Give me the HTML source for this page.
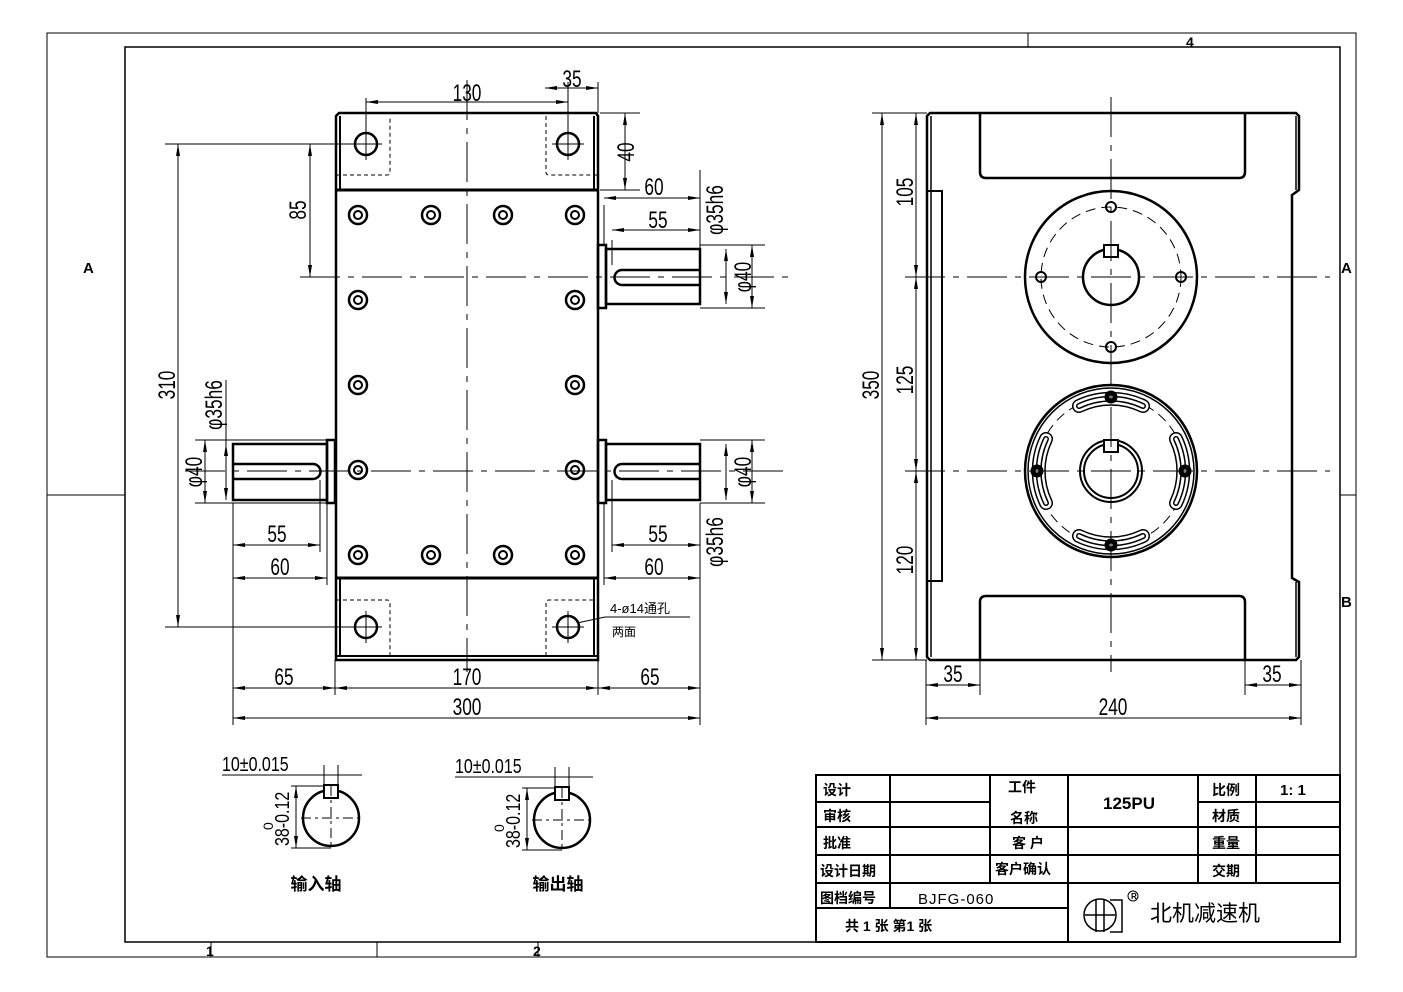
<!DOCTYPE html>
<html><head><meta charset="utf-8"><style>
html,body{margin:0;padding:0;background:#fff}
svg{display:block}
text{font-family:"Liberation Sans","Noto Sans CJK SC",sans-serif;fill:#000}
.d text{font-size:24px;font-weight:normal}
.c{font-family:"Liberation Sans","Noto Sans CJK SC",sans-serif;font-weight:bold;font-size:14px}
</style></head><body>
<svg width="1403" height="992" viewBox="0 0 1403 992" xmlns="http://www.w3.org/2000/svg">
<defs>
<marker id="a" markerWidth="12" markerHeight="6" refX="12" refY="3" orient="auto-start-reverse" markerUnits="userSpaceOnUse"><path d="M0,1 L12,3 L0,5z" fill="#000"/></marker>
</defs>
<g fill="none" stroke="#000">
<rect x="47" y="33" width="1309" height="924" stroke-width="1"/>
<rect x="125" y="47" width="1215" height="895" stroke-width="1.5"/>
<path d="M1028 33V47M377 942V957M47 495H125M1340 495H1356M211 942V957M538 942V957" stroke-width="1"/>
</g>
<text x="83" y="273" font-size="15" font-weight="bold">A</text>
<text x="1341" y="273" font-size="15" font-weight="bold">A</text>
<text x="1341" y="607" font-size="15" font-weight="bold">B</text>
<text x="1186" y="47" font-size="14" font-weight="bold">4</text>
<text x="206" y="956" font-size="14" font-weight="bold">1</text>
<text x="533" y="956" font-size="14" font-weight="bold">2</text>

<!-- LEFT VIEW -->
<g fill="none" stroke="#000">
<path d="M336 116L339 113H596L598 116V660H336Z" stroke-width="2.5"/>
<path d="M340 116V190M594 116V190" stroke-width="2"/>
<path d="M336 190H598M336 578H598" stroke-width="3"/>
<path d="M340 578V656M594 578V656M336 656H598" stroke-width="2"/>
<g stroke-dasharray="4,3" stroke-width="1">
<path d="M336 175H387Q390 175 390 172V116"/>
<path d="M546 116V172Q546 175 549 175H598"/>
<path d="M336 600H387Q390 600 390 603V656"/>
<path d="M546 656V603Q546 600 549 600H594"/>
</g>
<g stroke-width="2.5"><circle cx="366" cy="144" r="11"/><circle cx="568" cy="144" r="11"/><circle cx="366" cy="627" r="11"/><circle cx="568" cy="627" r="11"/></g>
<g stroke-width="1"><path d="M350 144H382M366 128V160M552 144H584M568 128V160M350 627H382M366 611V643M552 627H584M568 611V643"/></g>
<g stroke-width="2.5">
<circle cx="358" cy="215" r="9"/><circle cx="431" cy="215" r="9"/><circle cx="503" cy="215" r="9"/><circle cx="575" cy="215" r="9"/>
<circle cx="358" cy="555" r="9"/><circle cx="431" cy="555" r="9"/><circle cx="503" cy="555" r="9"/><circle cx="575" cy="555" r="9"/>
<circle cx="358" cy="300" r="9"/><circle cx="575" cy="300" r="9"/><circle cx="358" cy="385" r="9"/><circle cx="575" cy="385" r="9"/><circle cx="358" cy="470" r="9"/><circle cx="575" cy="470" r="9"/>
</g>
<g stroke-width="2">
<circle cx="358" cy="215" r="4"/><circle cx="431" cy="215" r="4"/><circle cx="503" cy="215" r="4"/><circle cx="575" cy="215" r="4"/>
<circle cx="358" cy="555" r="4"/><circle cx="431" cy="555" r="4"/><circle cx="503" cy="555" r="4"/><circle cx="575" cy="555" r="4"/>
<circle cx="358" cy="300" r="4"/><circle cx="575" cy="300" r="4"/><circle cx="358" cy="385" r="4"/><circle cx="575" cy="385" r="4"/><circle cx="358" cy="470" r="4"/><circle cx="575" cy="470" r="4"/>
</g>
<g stroke-width="2.5">
<rect x="598" y="245" width="8" height="63"/><rect x="606" y="249" width="94" height="55"/>
<path d="M700 270H622A7.5 7.5 0 0 0 622 285H700"/>
<rect x="598" y="440" width="8" height="63"/><rect x="606" y="444" width="94" height="56"/>
<path d="M700 464H622A7.5 7.5 0 0 0 622 479H700"/>
<rect x="327" y="440" width="8" height="63"/><rect x="233" y="444" width="94" height="56"/>
<path d="M233 464H313A7.5 7.5 0 0 1 313 479H233"/>
</g>
<g stroke-width="1" stroke-dasharray="40,8,6,8">
<path d="M467 80V672"/><path d="M300 277H790"/><path d="M185 471H790"/>
</g>
<g stroke-width="1">
<path d="M366 133V98M568 133V82M598 113V82"/>
<path d="M366 102H568" marker-start="url(#a)" marker-end="url(#a)"/>
<path d="M545 88H598" marker-end="url(#a)"/><path d="M545 88H568" marker-start="url(#a)"/>
<path d="M600 113H640M600 190H640"/><path d="M625 113V190" marker-start="url(#a)" marker-end="url(#a)"/>
<path d="M165 144H350M165 627H350M300 277H320"/>
<path d="M178 144V627" marker-start="url(#a)" marker-end="url(#a)"/>
<path d="M310 144V277" marker-start="url(#a)" marker-end="url(#a)"/>
<path d="M195 440H327M195 503H327M226 380V444"/>
<path d="M205 440V503" marker-start="url(#a)" marker-end="url(#a)"/>
<path d="M226 444V500" marker-start="url(#a)" marker-end="url(#a)"/>
<path d="M233 503V725M320 480V552M327 503V585M335 660V695M598 660V695M700 503V725M612 480V552M604 503V585M700 300V240M612 240V265M604 245V205"/>
<path d="M233 545H320" marker-start="url(#a)" marker-end="url(#a)"/>
<path d="M233 578H327" marker-start="url(#a)" marker-end="url(#a)"/>
<path d="M612 545H700" marker-start="url(#a)" marker-end="url(#a)"/>
<path d="M604 578H700" marker-start="url(#a)" marker-end="url(#a)"/>
<path d="M612 230H700" marker-start="url(#a)" marker-end="url(#a)"/>
<path d="M604 198H700" marker-start="url(#a)" marker-end="url(#a)"/>
<path d="M233 688H335" marker-start="url(#a)" marker-end="url(#a)"/>
<path d="M335 688H598" marker-start="url(#a)" marker-end="url(#a)"/>
<path d="M598 688H700" marker-start="url(#a)" marker-end="url(#a)"/>
<path d="M233 718H700" marker-start="url(#a)" marker-end="url(#a)"/>
<path d="M700 245H765M700 308H765M700 440H765M700 503H765M700 170V245M700 505V600"/>
<path d="M752 245V308" marker-start="url(#a)" marker-end="url(#a)"/>
<path d="M726 249V304" marker-start="url(#a)" marker-end="url(#a)"/>
<path d="M752 440V503" marker-start="url(#a)" marker-end="url(#a)"/>
<path d="M726 444V500" marker-start="url(#a)" marker-end="url(#a)"/>
<path d="M577 623L605 617H690"/>
</g>
</g>
<g class="d" text-anchor="middle">
<text transform="translate(467,101) scale(0.72,1)">130</text>
<text transform="translate(572,87) scale(0.72,1)">35</text>
<text transform="translate(634,152) rotate(-90) scale(0.72,1)">40</text>
<text transform="translate(306,210) rotate(-90) scale(0.72,1)">85</text>
<text transform="translate(175,385) rotate(-90) scale(0.72,1)">310</text>
<text transform="translate(222,405) rotate(-90) scale(0.72,1)">φ35h6</text>
<text transform="translate(202,472) rotate(-90) scale(0.72,1)">φ40</text>
<text transform="translate(277,542) scale(0.72,1)">55</text>
<text transform="translate(280,575) scale(0.72,1)">60</text>
<text transform="translate(284,685) scale(0.72,1)">65</text>
<text transform="translate(467,685) scale(0.72,1)">170</text>
<text transform="translate(650,685) scale(0.72,1)">65</text>
<text transform="translate(467,715) scale(0.72,1)">300</text>
<text transform="translate(654,195) scale(0.72,1)">60</text>
<text transform="translate(658,228) scale(0.72,1)">55</text>
<text transform="translate(723,210) rotate(-90) scale(0.72,1)">φ35h6</text>
<text transform="translate(751,277) rotate(-90) scale(0.72,1)">φ40</text>
<text transform="translate(751,472) rotate(-90) scale(0.72,1)">φ40</text>
<text transform="translate(723,542) rotate(-90) scale(0.72,1)">φ35h6</text>
<text transform="translate(658,542) scale(0.72,1)">55</text>
<text transform="translate(654,575) scale(0.72,1)">60</text>
</g>
<text x="610" y="613" font-size="13">4-ø14通孔</text>
<text x="612" y="636" font-size="12">两面</text>

<!-- RIGHT VIEW -->
<g fill="none" stroke="#000">
<path d="M930 113H1296L1299 116V190L1292 195V578L1299 582V657L1296 660H930L927 657V116Z" stroke-width="2.5"/>
<path d="M931 116V657" stroke-width="1.5"/>
<path d="M980 113V172Q980 178 986 178H1239Q1245 178 1245 172V113" stroke-width="2.5"/>
<path d="M980 660V602Q980 596 986 596H1239Q1245 596 1245 602V660" stroke-width="2.5"/>
<path d="M1296 116V190M1296 582V657" stroke-width="1.5"/>
<rect x="927" y="191" width="15" height="390" stroke-width="2"/>
<circle cx="1111" cy="277" r="86" stroke-width="2.5"/>
<circle cx="1111" cy="277" r="70" stroke-width="1" stroke-dasharray="10,6"/>
<circle cx="1111" cy="277" r="28" stroke-width="2.5"/>
<rect x="1104" y="245" width="14" height="12" fill="#fff" stroke-width="2"/>
<g stroke-width="2"><circle cx="1111" cy="207" r="5"/><circle cx="1111" cy="347" r="5"/><circle cx="1041" cy="277" r="5"/><circle cx="1181" cy="277" r="5"/></g>
<circle cx="1111" cy="471" r="86" stroke-width="2.5"/>
<circle cx="1111" cy="471" r="83" stroke-width="1.5"/>
<circle cx="1111" cy="471" r="74" stroke-width="1" stroke-dasharray="10,6"/>
<circle cx="1111" cy="471" r="31" stroke-width="2"/>
<circle cx="1111" cy="471" r="27" stroke-width="2"/>
<rect x="1104" y="440" width="14" height="12" fill="#fff" stroke-width="2"/>
<g stroke-linecap="round">
<g stroke-width="14" stroke="#000"><path d="M1079 406A74 74 0 0 1 1143 406"/><path d="M1079 536A74 74 0 0 0 1143 536"/><path d="M1046 439A74 74 0 0 0 1046 503"/><path d="M1176 439A74 74 0 0 1 1176 503"/></g>
<g stroke-width="11" stroke="#fff"><path d="M1079 406A74 74 0 0 1 1143 406"/><path d="M1079 536A74 74 0 0 0 1143 536"/><path d="M1046 439A74 74 0 0 0 1046 503"/><path d="M1176 439A74 74 0 0 1 1176 503"/></g>
<g stroke-width="6" stroke="#000"><path d="M1079 406A74 74 0 0 1 1143 406"/><path d="M1079 536A74 74 0 0 0 1143 536"/><path d="M1046 439A74 74 0 0 0 1046 503"/><path d="M1176 439A74 74 0 0 1 1176 503"/></g>
<g stroke-width="3" stroke="#fff"><path d="M1079 406A74 74 0 0 1 1143 406"/><path d="M1079 536A74 74 0 0 0 1143 536"/><path d="M1046 439A74 74 0 0 0 1046 503"/><path d="M1176 439A74 74 0 0 1 1176 503"/></g>
</g>
<g fill="#000"><circle cx="1111" cy="397" r="6"/><circle cx="1111" cy="545" r="6"/><circle cx="1037" cy="471" r="6"/><circle cx="1185" cy="471" r="6"/></g>
<g fill="#fff" stroke="none"><circle cx="1111" cy="397" r="1.5"/><circle cx="1111" cy="545" r="1.5"/><circle cx="1037" cy="471" r="1.5"/><circle cx="1185" cy="471" r="1.5"/></g>
<g stroke-width="1" stroke-dasharray="40,8,6,8">
<path d="M1111 97V672"/><path d="M905 277H1330"/><path d="M905 471H1330"/>
</g>
<g stroke-width="1">
<path d="M872 113H927M872 660H927"/>
<path d="M882 113V660" marker-start="url(#a)" marker-end="url(#a)"/>
<path d="M916 113V277" marker-start="url(#a)" marker-end="url(#a)"/>
<path d="M916 277V471" marker-start="url(#a)" marker-end="url(#a)"/>
<path d="M916 471V660" marker-start="url(#a)" marker-end="url(#a)"/>
<path d="M926 660V725M980 660V695M1245 660V695M1301 660V725"/>
<path d="M926 685H980" marker-start="url(#a)" marker-end="url(#a)"/>
<path d="M1245 685H1301" marker-start="url(#a)" marker-end="url(#a)"/>
<path d="M926 718H1301" marker-start="url(#a)" marker-end="url(#a)"/>
</g>
</g>
<g class="d" text-anchor="middle">
<text transform="translate(879,385) rotate(-90) scale(0.72,1)">350</text>
<text transform="translate(913,192) rotate(-90) scale(0.72,1)">105</text>
<text transform="translate(913,380) rotate(-90) scale(0.72,1)">125</text>
<text transform="translate(913,560) rotate(-90) scale(0.72,1)">120</text>
<text transform="translate(953,682) scale(0.72,1)">35</text>
<text transform="translate(1272,682) scale(0.72,1)">35</text>
<text transform="translate(1113,715) scale(0.72,1)">240</text>
</g>

<!-- KEY SECTIONS -->
<g fill="none" stroke="#000">
<circle cx="331" cy="818" r="28" stroke-width="2.5"/>
<rect x="324" y="785" width="14" height="13" fill="#fff" stroke-width="2"/>
<path d="M301 818H362M331 786V848" stroke-width="1" stroke-dasharray="10,4,3,4"/>
<path d="M222 775H362M324 765V785M338 765V785M291 786H324M291 848H331" stroke-width="1"/>
<path d="M296 786V848" stroke-width="1" marker-start="url(#a)" marker-end="url(#a)"/>
<circle cx="562" cy="820" r="28" stroke-width="2.5"/>
<rect x="555" y="787" width="14" height="13" fill="#fff" stroke-width="2"/>
<path d="M532 820H593M562 788V850" stroke-width="1" stroke-dasharray="10,4,3,4"/>
<path d="M455 777H593M555 767V787M569 767V787M522 788H555M522 850H562" stroke-width="1"/>
<path d="M527 788V850" stroke-width="1" marker-start="url(#a)" marker-end="url(#a)"/>
</g>
<text transform="translate(222,771) scale(0.8,1)" font-size="20">10±0.015</text>
<text transform="translate(455,773) scale(0.8,1)" font-size="20">10±0.015</text>
<text transform="translate(289,846) rotate(-90) scale(0.8,1)" font-size="20">38-0.12</text>
<text transform="translate(273,830) rotate(-90)" font-size="14">0</text>
<text transform="translate(520,848) rotate(-90) scale(0.8,1)" font-size="20">38-0.12</text>
<text transform="translate(504,832) rotate(-90)" font-size="14">0</text>
<text x="316" y="890" text-anchor="middle" font-size="17" font-weight="bold">输入轴</text>
<text x="558" y="890" text-anchor="middle" font-size="17" font-weight="bold">输出轴</text>

<!-- TITLE BLOCK -->
<g fill="none" stroke="#000" stroke-width="2">
<rect x="816" y="775" width="524" height="167"/>
<path d="M816 802H990M1198 802H1340M816 827H1340M816 855H1340M816 883H1340M816 908H1068"/>
<path d="M890 775V908M990 775V883M1068 775V942M1198 775V883M1256 775V883"/>
</g>
<g class="c">
<text x="823" y="795">设计</text><text x="823" y="821">审核</text><text x="823" y="848">批准</text><text x="820" y="876">设计日期</text><text x="820" y="903">图档编号</text>
<text x="1008" y="792">工件</text><text x="1010" y="823">名称</text><text x="1012" y="848">客 户</text><text x="995" y="874">客户确认</text>
<text x="1212" y="795">比例</text><text x="1212" y="821">材质</text><text x="1212" y="848">重量</text><text x="1212" y="876">交期</text>
<text x="1280" y="795" font-family="Liberation Serif,serif" font-size="15">1: 1</text>
<text x="845" y="931">共 1 张 第1 张</text>
</g>
<text x="1103" y="809" font-family="Liberation Serif,serif" font-size="17" font-weight="bold">125PU</text>
<text x="918" y="904" font-size="15" font-weight="300" letter-spacing="1">BJFG-060</text>
<text x="1150" y="921" font-size="22">北机减速机</text>
<g fill="none" stroke="#000" stroke-width="1.5">
<circle cx="1100" cy="915" r="16"/><path d="M1085 915H1115M1096 900V932M1104 900V932M1110 900H1122V932H1110"/>
<circle cx="1133" cy="896" r="5" stroke-width="1"/>
</g>
<text x="1131" y="899" font-size="8" font-weight="bold">R</text>
</svg>
</body></html>
